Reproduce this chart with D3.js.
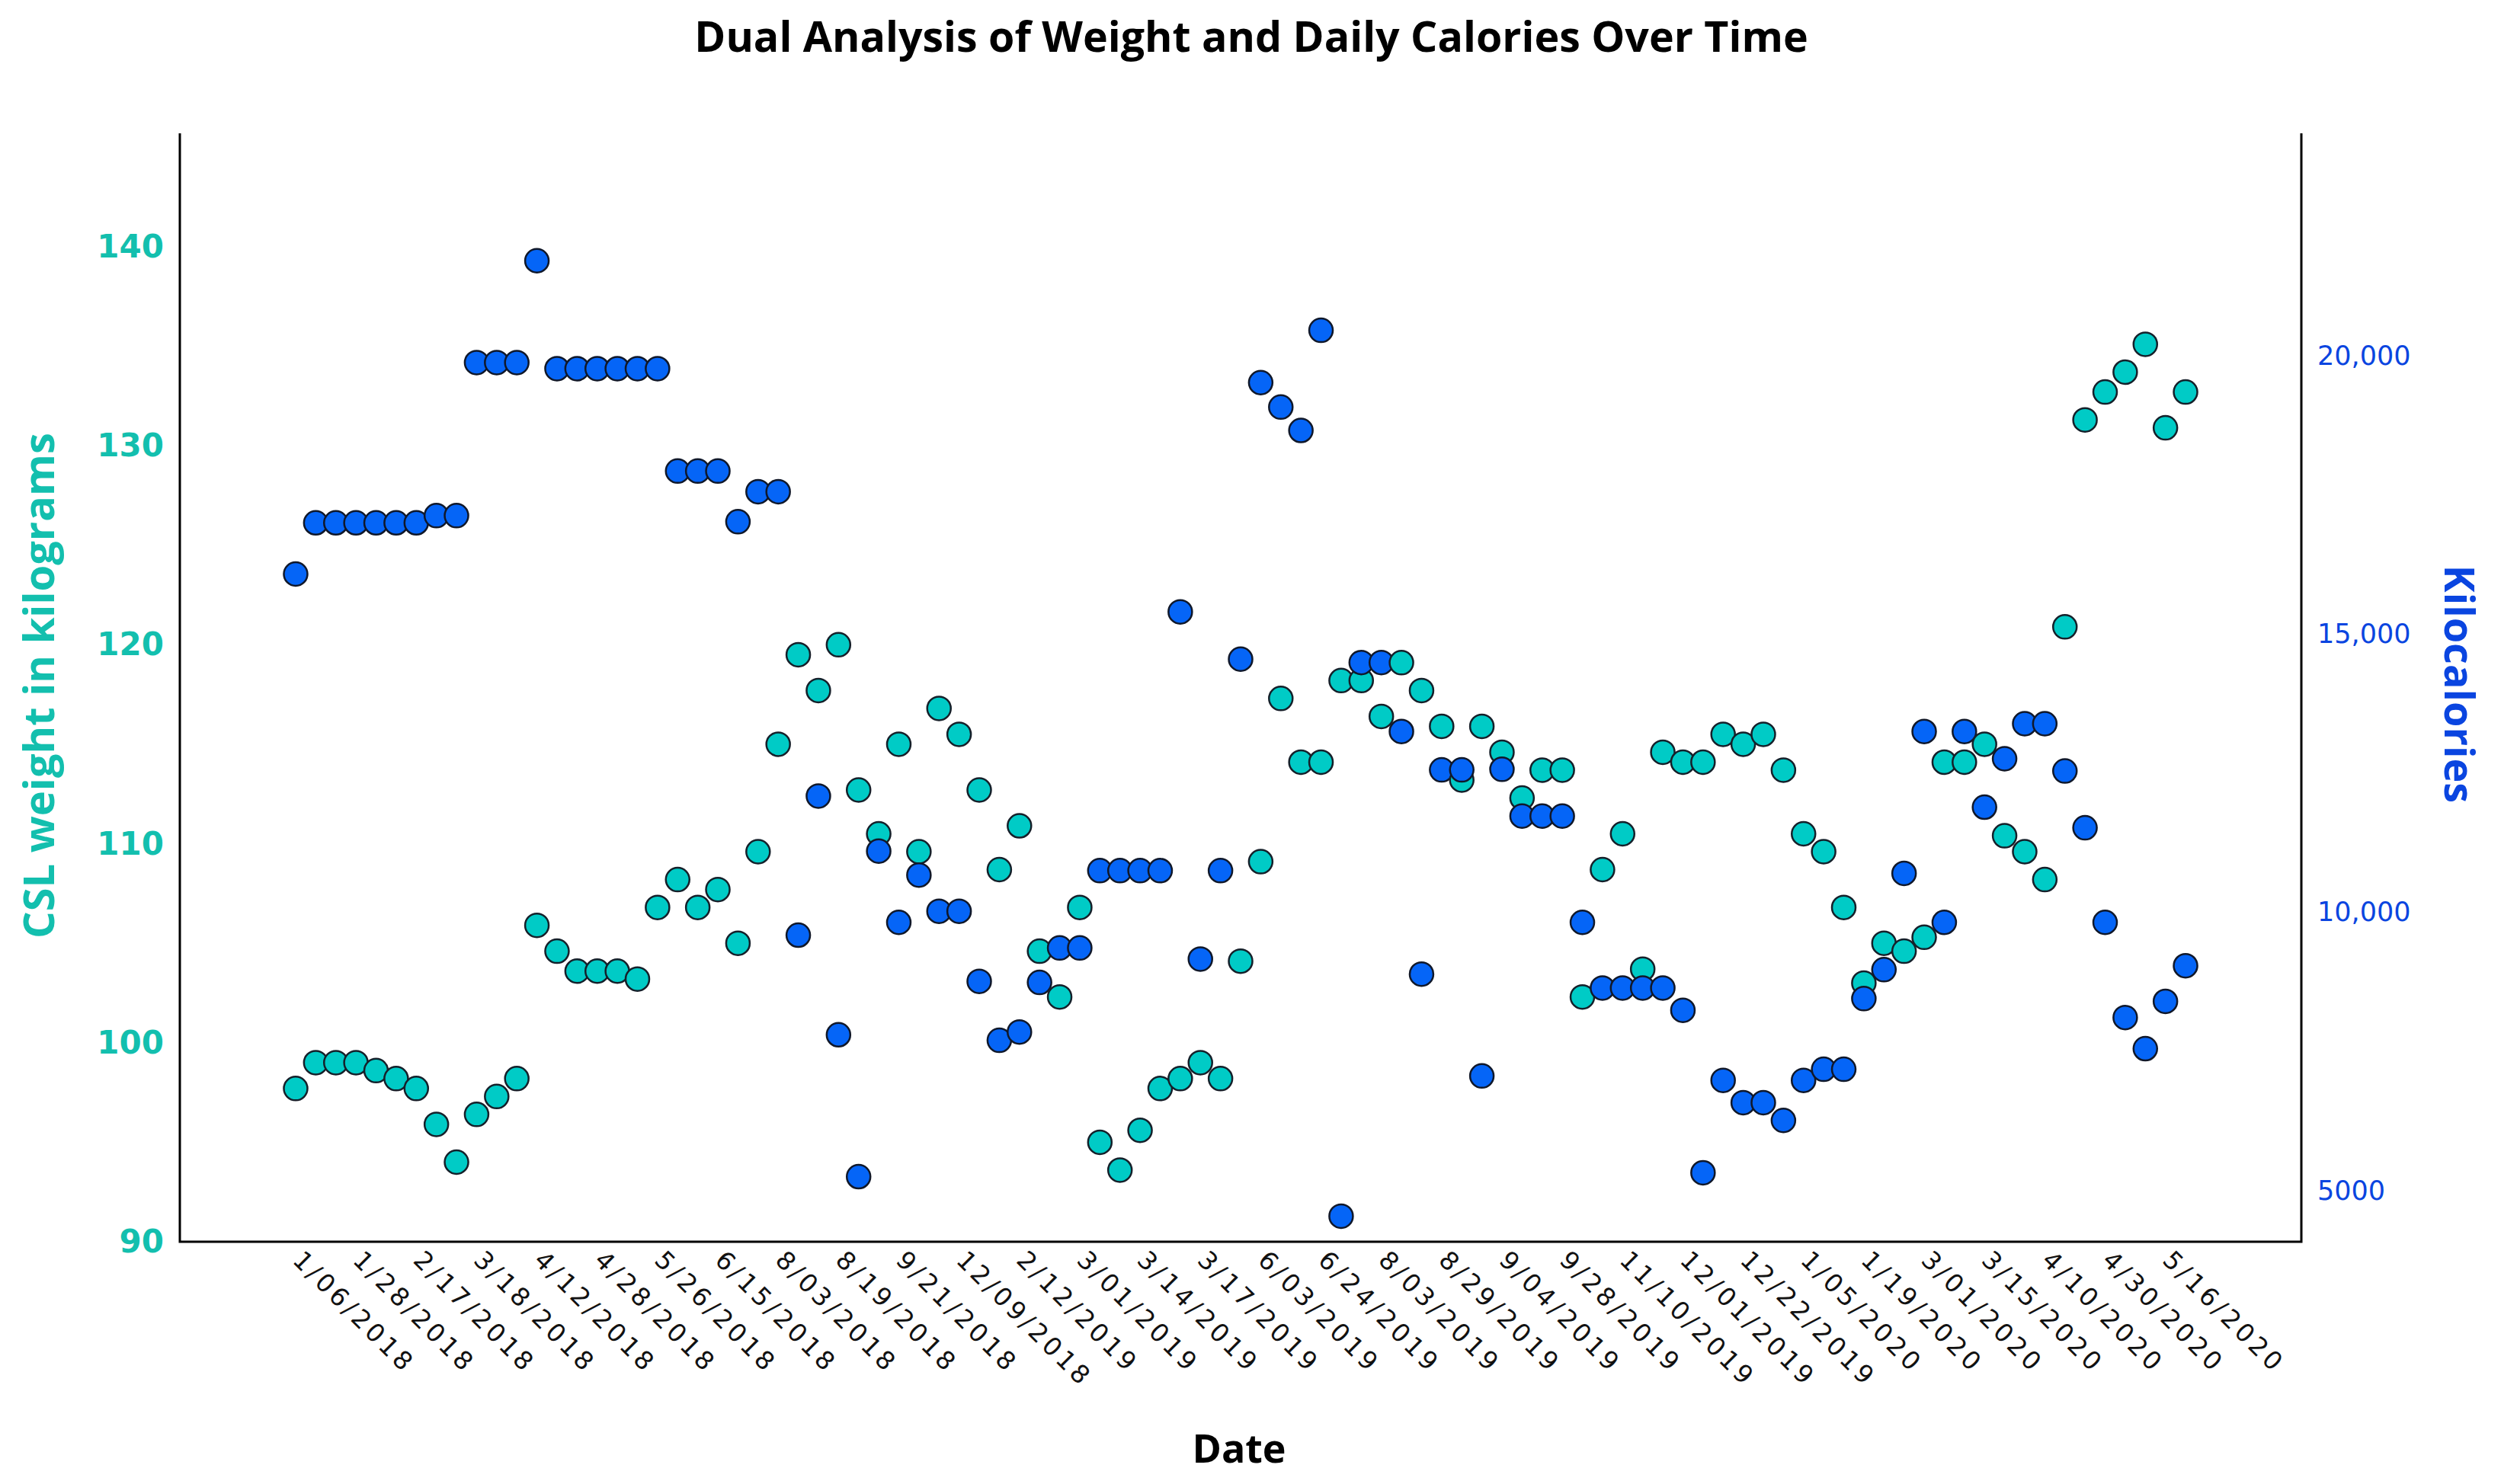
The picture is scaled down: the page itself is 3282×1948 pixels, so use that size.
<!DOCTYPE html>
<html>
<head>
<meta charset="utf-8">
<script src="https://cdn.jsdelivr.net/npm/d3@7"></script>
<style>
  body { margin: 0; background: #fff; }
  svg { display: block; }
</style>
</head>
<body>
<div id="chart"></div>
<script>
// CSL weight (kg) per date
const weightKg = [
  97.7, 99.0, 99.0, 99.0, 98.6, 98.2, 97.7, 95.9, 94.0, 96.4,
  97.3, 98.2, 105.9, 104.6, 103.6, 103.6, 103.6, 103.2, 106.8, 108.2,
  106.8, 107.7, 105.0, 109.6, 115.0, 119.5, 117.7, 120.0, 112.7, 110.5,
  115.0, 109.6, 116.8, 115.5, 112.7, 108.7, 110.9, 104.6, 102.3, 106.8,
  95.0, 93.6, 95.6, 97.7, 98.2, 99.0, 98.2, 104.1, 109.1, 117.3,
  114.1, 114.1, 118.2, 118.2, 116.4, 119.1, 117.7, 115.9, 113.2, 115.9,
  114.6, 112.3, 113.7, 113.7, 102.3, 108.7, 110.5, 103.7, 114.6, 114.1,
  114.1, 115.5, 115.0, 115.5, 113.7, 110.5, 109.6, 106.8, 103.0, 105.0,
  104.6, 105.3, 114.1, 114.1, 115.0, 110.4, 109.6, 108.2, 120.9, 131.3,
  132.7, 133.7, 135.1, 130.9, 132.7
];

// daily kilocalories per date
const kcal = [
  16080, 17000, 17000, 17000, 17000, 17000, 17000, 17130, 17130, 19880,
  19880, 19880, 21710, 19770, 19770, 19770, 19770, 19770, 19770, 17930,
  17930, 17930, 17020, 17560, 17560, 9590, 12090, 7800, 5250, 11100,
  9820, 10670, 10020, 10020, 8760, 7700, 7850, 8740, 9360, 9360,
  10750, 10750, 10750, 10750, 15400, 9160, 10750, 14550, 19520, 19080,
  18660, 20460, 4540, 14490, 14490, 13250, 8890, 12560, 12560, 7060,
  12570, 11730, 11730, 11730, 9820, 8640, 8640, 8640, 8640, 8240,
  5320, 6980, 6580, 6580, 6260, 6980, 7180, 7180, 8450, 8970,
  10700, 13250, 9820, 13250, 11890, 12760, 13390, 13390, 12540, 11520,
  9820, 8110, 7550, 8400, 9040
];

// only every third date is labelled on the axis
const tickLabels = [
  "1/06/2018", "1/28/2018", "2/17/2018", "3/18/2018", "4/12/2018", "4/28/2018",
  "5/26/2018", "6/15/2018", "8/03/2018", "8/19/2018", "9/21/2018", "12/09/2018",
  "2/12/2019", "3/01/2019", "3/14/2019", "3/17/2019", "6/03/2019", "6/24/2019",
  "8/03/2019", "8/29/2019", "9/04/2019", "9/28/2019", "11/10/2019", "12/01/2019",
  "12/22/2019", "1/05/2020", "1/19/2020", "3/01/2020", "3/15/2020", "4/10/2020",
  "4/30/2020", "5/16/2020"
];
const weightTicks = [90, 100, 110, 120, 130, 140];
const kcalTicks = [5000, 10000, 15000, 20000];

const W = 3282, H = 1948;
const mLeft = 236, mRight = 3020, mTop = 175, mBottom = 1630;

const teal = "#00cbc6", tealText = "#13bfae";
const blue = "#0565f7", blueText = "#0a45e0";

const svg = d3.select("#chart").append("svg")
  .attr("width", W)
  .attr("height", H);

const idx = d3.range(weightKg.length);

const x = d3.scalePoint()
  .domain(idx)
  .range([mLeft, mRight])
  .padding(5.76);

const yW = d3.scaleLinear().domain([90, 145.7]).range([mBottom, mTop]);
const yK = d3.scaleLinear().domain([4080, 24000]).range([mBottom, mTop]);

// left axis (weight)
const gL = svg.append("g")
  .attr("transform", `translate(${mLeft},0)`)
  .call(d3.axisLeft(yW).tickValues(weightTicks).tickSize(0).tickPadding(21));
gL.select(".domain").remove();
gL.selectAll("text")
  .attr("fill", tealText)
  .style("font-family", "DejaVu Sans")
  .style("font-weight", "bold")
  .style("font-size", "42px");

// right axis (kilocalories)
const gR = svg.append("g")
  .attr("transform", `translate(${mRight},0)`)
  .call(d3.axisRight(yK).tickValues(kcalTicks).tickSize(0).tickPadding(21)
    .tickFormat(d => d >= 10000 ? d3.format(",")(d) : d));
gR.select(".domain").remove();
gR.selectAll("text")
  .attr("fill", blueText)
  .style("font-family", "DejaVu Sans")
  .style("font-size", "35px");

// bottom axis, rotated date labels
const gB = svg.append("g")
  .attr("transform", `translate(0,${mBottom})`)
  .call(d3.axisBottom(x)
    .tickValues(d3.range(0, weightKg.length, 3))
    .tickSize(0)
    .tickFormat((d, i) => tickLabels[i]));
gB.select(".domain").remove();
gB.selectAll("text")
  .attr("x", 0).attr("y", 0).attr("dy", 0)
  .attr("transform", "translate(-6,26) rotate(45)")
  .attr("text-anchor", "start")
  .attr("fill", "#111")
  .style("font-family", "DejaVu Sans")
  .style("font-size", "33px")
  .style("letter-spacing", "4.5px");

// frame lines: left, right, bottom
svg.append("path")
  .attr("d", `M${mLeft},${mTop}V${mBottom}H${mRight}V${mTop}`)
  .attr("fill", "none")
  .attr("stroke", "#000")
  .attr("stroke-width", 3);

// points, teal then blue for each date
const pts = svg.append("g").selectAll("g")
  .data(idx)
  .join("g");

pts.append("circle")
  .attr("cx", d => x(d))
  .attr("cy", d => yW(weightKg[d]))
  .attr("r", 15.5)
  .attr("fill", teal)
  .attr("stroke", "#15202a")
  .attr("stroke-width", 2.5);

pts.append("circle")
  .attr("cx", d => x(d))
  .attr("cy", d => yK(kcal[d]))
  .attr("r", 15.5)
  .attr("fill", blue)
  .attr("stroke", "#10182a")
  .attr("stroke-width", 2.5);

// titles
svg.append("text")
  .attr("x", 1642).attr("y", 68)
  .attr("text-anchor", "middle")
  .style("font-family", "Open Sans")
  .style("font-weight", "bold")
  .style("font-size", "55.5px")
  .text("Dual Analysis of Weight and Daily Calories Over Time");

svg.append("text")
  .attr("transform", "translate(71,900) rotate(-90)")
  .attr("text-anchor", "middle")
  .attr("fill", tealText)
  .style("font-family", "Open Sans")
  .style("font-weight", "bold")
  .style("font-size", "56px")
  .text("CSL weight in kilograms");

svg.append("text")
  .attr("transform", "translate(3208,898) rotate(90)")
  .attr("text-anchor", "middle")
  .attr("fill", blueText)
  .style("font-family", "Open Sans")
  .style("font-weight", "bold")
  .style("font-size", "54px")
  .text("Kilocalories");

svg.append("text")
  .attr("x", 1626).attr("y", 1920)
  .attr("text-anchor", "middle")
  .style("font-family", "Open Sans")
  .style("font-weight", "bold")
  .style("font-size", "52px")
  .text("Date");
</script>
</body>
</html>
